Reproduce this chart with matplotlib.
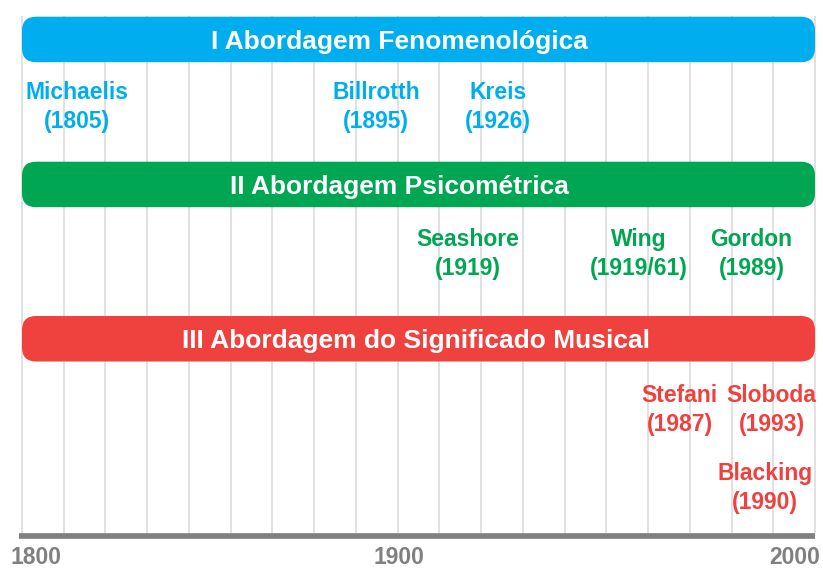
import numpy as np
import matplotlib
matplotlib.use("Agg")
import matplotlib.pyplot as plt
from matplotlib.patches import FancyBboxPatch

# ---------------- data ----------------
approaches = ["I Abordagem Fenomenológica",
              "II Abordagem Psicométrica",
              "III Abordagem do Significado Musical"]
approach_colors = ["#00AEEF", "#00A651", "#EF413D"]
start_year, end_year = 1800, 2000

# authors per approach: (name, year label)
authors_1 = ["Michaelis", "Billrotth", "Kreis"]
years_1 = ["1805", "1895", "1926"]
authors_2 = ["Seashore", "Wing", "Gordon"]
years_2 = ["1919", "1919/61", "1989"]
authors_3 = ["Stefani", "Sloboda", "Blacking"]
years_3 = ["1987", "1993", "1990"]

tick_labels = ["1800", "1900", "2000"]
n_grid = 20

# ---------------- layout ----------------
W, H = 823, 568
fig = plt.figure(figsize=(W / 100, H / 100), dpi=100)
ax = fig.add_axes([0, 0, 1, 1])
px_per_year = (815 - 22) / (end_year - start_year)
ax.set_xlim(start_year - 22 / px_per_year, end_year + (W - 815) / px_per_year)
ax.set_ylim(H, 0)
ax.axis("off")

font = "Liberation Sans"

# grid lines
grid_years = np.linspace(start_year, end_year, n_grid)
ax.vlines(grid_years, 16, 533, colors="#D9D9D9", linewidth=1.1, zorder=1)

# axis bar
ax.plot([start_year - 3 / px_per_year, end_year], [535.5, 535.5],
        color="#808080", linewidth=4.1, solid_capstyle="butt", zorder=2)

# tick labels
tick_pos = [1803.6, 1895.1, 1995.0]
for lab, xp in zip(tick_labels, tick_pos):
    ax.text(xp, 564, lab, ha="center", va="baseline", fontsize=16.5,
            fontweight="bold", color="#808080", family=font)

# bands
band_tops = [16.7, 161.7, 316.0]
band_h = 45.5
title_x = [1895.1, 1895.3, 1899.4]
radius_px = 14
for name, col, top, tx in zip(approaches, approach_colors, band_tops, title_x):
    r_years = radius_px / px_per_year
    p = FancyBboxPatch((start_year, top), end_year - start_year, band_h,
                       boxstyle=f"round,pad=0,rounding_size={r_years}",
                       mutation_aspect=px_per_year,
                       facecolor=col, edgecolor="none", zorder=3)
    ax.add_patch(p)
    ax.text(tx, top + band_h / 2 + 2.5, name, ha="center", va="center",
            fontsize=19, fontweight="bold", color="white", family=font, zorder=4)

# author labels
groups = [
    (authors_1, years_1, [1813.8, 1889.3, 1920.1], [107, 107, 107], approach_colors[0]),
    (authors_2, years_2, [1912.4, 1955.6, 1984.0], [254, 254, 254], approach_colors[1]),
    (authors_3, years_3, [1965.9, 1989.1, 1987.4], [410, 410, 488], approach_colors[2]),
]
for names, yrs, xs, ys, col in groups:
    for n, y, xp, yp in zip(names, yrs, xs, ys):
        ax.text(xp, yp, f"{n}\n({y})", ha="center", va="center",
                fontsize=16.5, fontweight="bold", color=col, family=font,
                linespacing=1.32, zorder=4)

fig.savefig("out.png", dpi=100, facecolor="white")
